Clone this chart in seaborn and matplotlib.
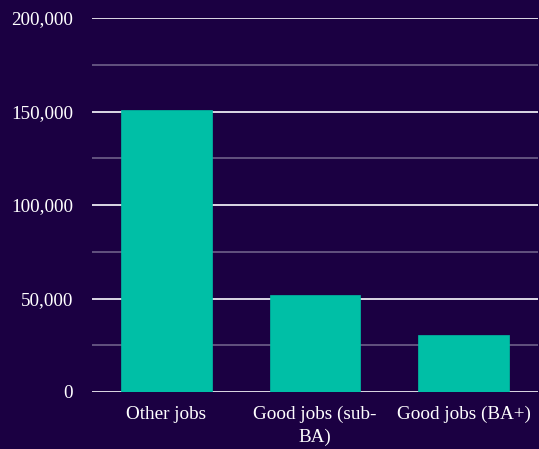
import numpy as np
import pandas as pd
import seaborn as sns
import matplotlib.pyplot as plt
from matplotlib.ticker import MultipleLocator, FuncFormatter

# Data
categories = ['Other jobs', 'Good jobs (sub-\nBA)', 'Good jobs (BA+)']
jobs = [151000, 52000, 30500]

df = pd.DataFrame({'category': categories, 'jobs': jobs})

bg = '#1b0042'
teal = '#00bfa6'

sns.set_style('dark')
plt.rcParams['font.family'] = ['Liberation Serif', 'DejaVu Serif']

fig = plt.figure(figsize=(5.39, 4.49), dpi=100, facecolor=bg)
ax = fig.add_axes([92 / 539, 57 / 449, 446 / 539, 374 / 449])
ax.set_facecolor(bg)

sns.barplot(data=df, x='category', y='jobs', color=teal, width=0.61,
            saturation=1, edgecolor=teal, linewidth=0.5, ax=ax, zorder=3)

ax.set_ylim(0, 200000)
ax.set_xlim(-0.5, 2.5)
ax.yaxis.set_major_locator(MultipleLocator(50000))
ax.yaxis.set_minor_locator(MultipleLocator(25000))
ax.yaxis.set_major_formatter(FuncFormatter(lambda v, p: f'{int(v):,}'))
ax.grid(which='major', axis='y', color='#ece9f2', lw=1.3, zorder=0)
ax.grid(which='minor', axis='y', color='#6e5f8a', lw=1.2, zorder=0)
ax.grid(which='major', axis='x', visible=False)

for s in ax.spines.values():
    s.set_visible(False)
ax.tick_params(which='both', length=0, colors='white', labelsize=13.8)
ax.tick_params(axis='y', pad=13.5)
ax.tick_params(axis='x', pad=10)
for lbl in ax.get_xticklabels():
    lbl.set_linespacing(1.4)
ax.set_xlabel('')
ax.set_ylabel('')

plt.savefig('out.png', dpi=100, facecolor=bg)
